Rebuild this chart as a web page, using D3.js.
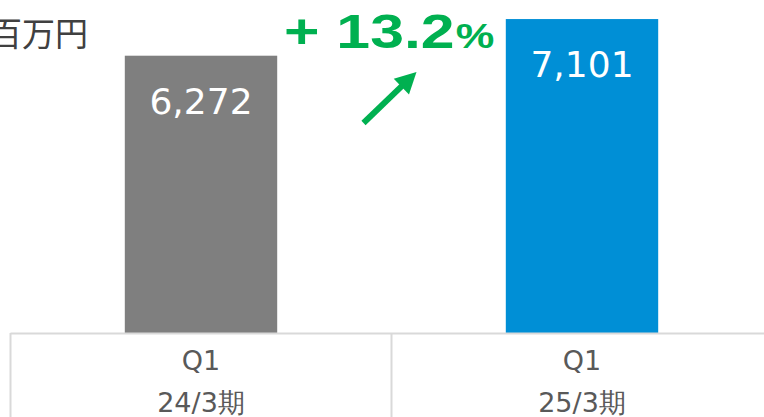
<!DOCTYPE html>
<html><head><meta charset="utf-8">
<script src="https://cdn.jsdelivr.net/npm/d3@7"></script>
<style>body{margin:0;background:#fff;overflow:hidden}svg{display:block}</style>
</head><body>
<svg id="c" width="764" height="417"></svg>
<script>
const categories = ["Q1\n24/3期", "Q1\n25/3期"];
const values = [6272, 7101];
const barColors = ["#7f7f7f", "#008fd6"];
const unitLabel = "百万円";
const growthLabel = "+ 13.2";
const growthSuffix = "%";

const W = 764, H = 417;
const svg = d3.select("#c");
const x = d3.scaleBand().domain(categories).range([10.5, 772.5]).padding(0);
const y = d3.scaleLinear().domain([0, 7532]).range([333, 0]);
const bw = x.bandwidth() * 0.4;

// bars
svg.selectAll("rect.bar").data(values).join("rect")
  .attr("class", "bar")
  .attr("x", (d, i) => x(categories[i]) + (x.bandwidth() - bw) / 2)
  .attr("y", d => y(d))
  .attr("width", bw)
  .attr("height", d => y(0) - y(d))
  .attr("fill", (d, i) => barColors[i]);

// value labels
svg.selectAll("text.val").data(values).join("text")
  .attr("class", "val")
  .attr("x", (d, i) => x(categories[i]) + x.bandwidth() / 2)
  .attr("y", d => y(d) + 58)
  .attr("text-anchor", "middle")
  .attr("font-family", "DejaVu Sans, Verdana, sans-serif")
  .attr("font-size", 36)
  .attr("fill", "#fff")
  .text(d => d3.format(",")(d));

// axis grid (table-like)
const grid = svg.append("g").attr("stroke", "#d9d9d9").attr("stroke-width", 2).attr("fill", "none");
grid.append("line").attr("x1", x.range()[0]).attr("x2", W).attr("y1", y(0) + 0.5).attr("y2", y(0) + 0.5);
categories.forEach(c => {
  grid.append("line").attr("x1", x(c)).attr("x2", x(c)).attr("y1", y(0)).attr("y2", H);
});

// category labels
categories.forEach(c => {
  const lines = c.split("\n");
  const t = svg.append("text")
    .attr("text-anchor", "middle")
    .attr("font-family", "DejaVu Sans, Verdana, sans-serif")
    .attr("font-size", 27)
    .attr("fill", "#595959");
  lines.forEach((l, j) => {
    t.append("tspan").attr("x", x(c) + x.bandwidth() / 2).attr("y", 370 + j * 42).text(l);
  });
});

// unit label
svg.append("text")
  .attr("x", 88).attr("y", 46)
  .attr("text-anchor", "end")
  .attr("font-family", "Noto Sans CJK JP, sans-serif")
  .attr("font-size", 33)
  .attr("fill", "#404040")
  .text(unitLabel);

// growth label
const g = svg.append("text")
  .attr("transform", "translate(284,48) scale(1.24,1)")
  .attr("font-family", "Liberation Sans, Arial, sans-serif")
  .attr("font-weight", "bold")
  .attr("font-size", 49)
  .attr("fill", "#00b050");
g.append("tspan").text(growthLabel);
g.append("tspan").attr("font-size", 35).attr("dx", 1).text(growthSuffix);

// arrow between bars
const cx = (x(categories[0]) + x(categories[1]) + x.bandwidth()) / 2;
const x0 = cx - 28, y0 = 123, x1 = cx + 25, y1 = 72;
const ang = Math.atan2(y1 - y0, x1 - x0);
const headLen = 21, headW = 11;
const bx = x1 - headLen * Math.cos(ang), by = y1 - headLen * Math.sin(ang);
svg.append("line")
  .attr("x1", x0).attr("y1", y0).attr("x2", bx + 2 * Math.cos(ang)).attr("y2", by + 2 * Math.sin(ang))
  .attr("stroke", "#00b050").attr("stroke-width", 6);
svg.append("polygon")
  .attr("points", [
    [x1, y1],
    [bx + headW * Math.sin(ang), by - headW * Math.cos(ang)],
    [bx - headW * Math.sin(ang), by + headW * Math.cos(ang)]
  ].map(p => p.join(",")).join(" "))
  .attr("fill", "#00b050");
</script>
</body></html>
